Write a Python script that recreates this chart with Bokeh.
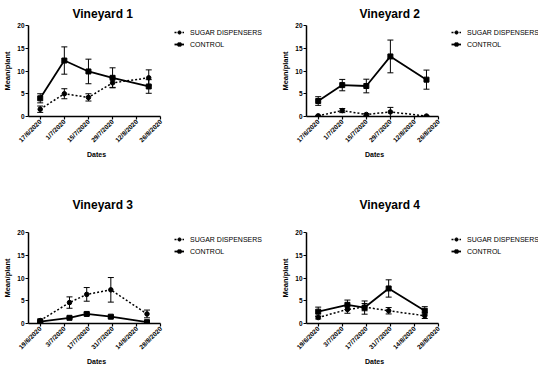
import math
from datetime import datetime
from bokeh.plotting import figure
from bokeh.layouts import column, row
from bokeh.models import (Range1d, FixedTicker, Legend, LegendItem, Whisker,
                          ColumnDataSource, TeeHead, Title)
from bokeh.embed import file_html
from bokeh.resources import INLINE

# ---------------- data ----------------
series_names = ["SUGAR DISPENSERS", "CONTROL"]
x_label = "Dates"
y_label = "Mean/plant"

v1_ticks = ["17/6/2020", "1/7/2020", "15/7/2020", "29/7/2020", "12/8/2020", "26/8/2020"]
v1_dates = ["17/6/2020", "1/7/2020", "15/7/2020", "29/7/2020", "19/8/2020"]
v1_sugar = [1.6, 5.0, 4.2, 7.4, 8.5]
v1_sugar_err = [0.7, 1.1, 0.8, 1.0, 1.75]
v1_control = [4.0, 12.3, 9.9, 8.5, 6.6]
v1_control_err = [1.0, 3.0, 2.7, 2.2, 1.5]

v2_ticks = ["17/6/2020", "1/7/2020", "15/7/2020", "29/7/2020", "12/8/2020", "26/8/2020"]
v2_dates = ["17/6/2020", "1/7/2020", "15/7/2020", "29/7/2020", "19/8/2020"]
v2_sugar = [0.15, 1.3, 0.45, 1.0, 0.1]
v2_sugar_err = [0.1, 0.45, 0.2, 1.0, 0.05]
v2_control = [3.4, 6.9, 6.7, 13.2, 8.1]
v2_control_err = [0.95, 1.25, 1.5, 3.6, 2.1]

v3_ticks = ["19/6/2020", "3/7/2020", "17/7/2020", "31/7/2020", "14/8/2020", "28/8/2020"]
v3_dates = ["19/6/2020", "6/7/2020", "16/7/2020", "30/7/2020", "20/8/2020"]
v3_sugar = [0.65, 4.6, 6.4, 7.4, 2.1]
v3_sugar_err = [0.35, 1.25, 1.5, 2.7, 0.85]
v3_control = [0.4, 1.25, 2.1, 1.5, 0.3]
v3_control_err = [0.15, 0.2, 0.35, 0.3, 0.1]

v4_ticks = ["19/6/2020", "3/7/2020", "17/7/2020", "31/7/2020", "14/8/2020", "28/8/2020"]
v4_dates = ["19/6/2020", "6/7/2020", "16/7/2020", "30/7/2020", "20/8/2020"]
v4_sugar = [1.3, 3.1, 3.6, 2.8, 1.7]
v4_sugar_err = [0.3, 0.85, 0.8, 0.7, 0.6]
v4_control = [2.6, 4.1, 3.5, 7.7, 2.8]
v4_control_err = [1.0, 1.05, 1.45, 1.9, 0.9]

FONT = "Liberation Sans"
REF = datetime(2020, 1, 1)
AXIS_PX = 136      # pixel length of the drawn x axis
LEFT = 21          # left border (y axis area)
FRAME_H = 91


def day(s):
    return (datetime.strptime(s, "%d/%m/%Y") - REF).days


def make_panel(title, ticks, dates, sugar, sugar_err, control, control_err,
               width, title_offset, title_standoff, border_bottom,
               legend_x, legend_standoff):
    tick_days = [day(t) for t in ticks]
    xs = [day(d) for d in dates]
    x0 = tick_days[0] - 6.8
    x1 = tick_days[-1]
    frame_w = width - LEFT
    x_end = x0 + (x1 - x0) * frame_w / AXIS_PX   # room for the legend
    border_top = 16 + title_standoff
    p = figure(output_backend="svg", toolbar_location=None,
               width=width, height=border_top + FRAME_H + border_bottom,
               x_range=Range1d(x0, x_end), y_range=Range1d(0, 20),
               min_border_left=LEFT, min_border_right=0,
               min_border_top=0, min_border_bottom=border_bottom,
               background_fill_color="white", border_fill_color="white")
    p.outline_line_color = None
    p.grid.visible = False

    p.title.text = title
    p.title.text_font = FONT
    p.title.text_font_size = "12px"
    p.title.text_font_style = "bold"
    p.title.text_color = "black"
    p.title.align = "left"
    p.title.offset = title_offset
    p.title.standoff = title_standoff

    for ax in (p.xaxis[0], p.yaxis[0]):
        ax.axis_line_width = 1.5
        ax.axis_line_color = "black"
        ax.major_tick_line_color = "black"
        ax.major_tick_line_width = 1.2
        ax.major_tick_out = 3
        ax.major_tick_in = 0
        ax.minor_tick_line_color = None
        ax.major_label_text_font = FONT
        ax.major_label_text_font_style = "bold"
        ax.major_label_text_font_size = "6.5px"
        ax.major_label_text_color = "black"
        ax.axis_label_text_font = FONT
        ax.axis_label_text_font_style = "bold"
        ax.axis_label_text_color = "black"
        ax.major_label_standoff = 1

    p.xaxis.bounds = (x0, x1)
    p.xaxis.ticker = FixedTicker(ticks=tick_days)
    p.xaxis.major_label_overrides = {d: t for d, t in zip(tick_days, ticks)}
    p.xaxis.major_label_orientation = math.pi / 4

    # x axis title, centred under the drawn axis (not the whole frame)
    p.add_layout(Title(text=x_label, align="left", offset=AXIS_PX / 2 - 9.5,
                       standoff=1, text_font=FONT, text_font_size="7px",
                       text_font_style="bold", text_color="black"), "below")

    p.yaxis.ticker = FixedTicker(ticks=[0, 5, 10, 15, 20])
    p.yaxis.axis_label = y_label
    p.yaxis.axis_label_text_font_size = "7.5px"
    p.yaxis.axis_label_standoff = 2

    items = []
    for name, vals, errs, dash, marker, msize, lw in (
            (series_names[0], sugar, sugar_err, "2 2", "circle", 4.5, 1.5),
            (series_names[1], control, control_err, "solid", "square", 5, 1.8)):
        src = ColumnDataSource(dict(
            x=xs, y=vals,
            upper=[v + e for v, e in zip(vals, errs)],
            lower=[max(v - e, 0) for v, e in zip(vals, errs)]))
        w = Whisker(base="x", upper="upper", lower="lower", source=src,
                    dimension="height", line_color="black", line_width=1,
                    upper_head=TeeHead(size=6, line_width=1, line_color="black"),
                    lower_head=TeeHead(size=6, line_width=1, line_color="black"))
        p.add_layout(w)
        ln = p.line("x", "y", source=src, line_color="black",
                    line_width=lw, line_dash=dash)
        mk = p.scatter("x", "y", source=src, marker=marker, size=msize,
                       fill_color="black", line_color="black")
        items.append(LegendItem(label=name, renderers=[ln, mk]))

    legend = Legend(items=items, location=(legend_x, FRAME_H - 23),
                    margin=0, padding=0, spacing=4,
                    glyph_width=10, glyph_height=8, label_standoff=legend_standoff,
                    label_text_font=FONT, label_text_font_size="7px",
                    label_text_color="black", label_height=8,
                    border_line_color=None, background_fill_alpha=0)
    p.add_layout(legend, "center")
    return p


p1 = make_panel("Vineyard 1", v1_ticks, v1_dates, v1_sugar, v1_sugar_err,
                v1_control, v1_control_err, 278, 44, 9, 58, AXIS_PX + 10, 6)
p2 = make_panel("Vineyard 2", v2_ticks, v2_dates, v2_sugar, v2_sugar_err,
                v2_control, v2_control_err, 260, 53, 9, 58, AXIS_PX + 9, 6)
p3 = make_panel("Vineyard 3", v3_ticks, v3_dates, v3_sugar, v3_sugar_err,
                v3_control, v3_control_err, 278, 44, 42, 44, AXIS_PX + 10, 6)
p4 = make_panel("Vineyard 4", v4_ticks, v4_dates, v4_sugar, v4_sugar_err,
                v4_control, v4_control_err, 260, 53, 42, 44, AXIS_PX + 9, 6)

layout = column(row(p1, p2), row(p3, p4))

open("out.html", "w").write(file_html(layout, INLINE))
